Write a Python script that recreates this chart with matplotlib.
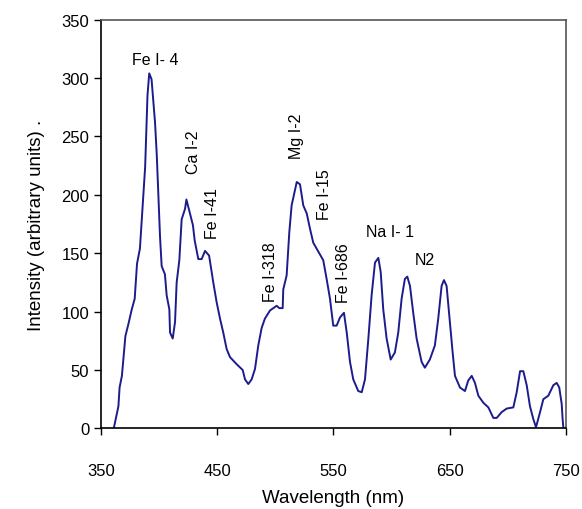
import matplotlib.pyplot as plt
plt.switch_backend('agg')

plt.rcParams['font.family'] = ['Liberation Sans', 'DejaVu Sans']

# spectrum
wavelength = [361, 365, 366, 368, 371, 373.5, 376.5, 379, 381, 383.5, 385, 386.5, 388, 390,
              391.5, 393.5, 396.5, 398, 400.8, 402.2, 405, 406.5, 408.8, 409.4, 411.7, 413.7,
              415.1, 417.4, 419.4, 422.3, 423.5, 426.3, 429.1, 430.6, 433.7, 436.6, 439.5, 443,
              446.6, 449.5, 452.4, 455.2, 458.1, 461, 466.7, 471.9, 473.9, 476.7, 479.6, 482.5,
              485.3, 488.2, 491, 495.4, 501.1, 503.4, 506.3, 506.8, 509.7, 512, 514, 518.4,
              521.2, 524, 527, 529.8, 532.6, 535.5, 538.4, 541.2, 544.1, 547, 549.8, 552.7,
              555.6, 559, 561.4, 564.2, 567, 571.3, 574.3, 577.1, 580, 582.8, 585.7, 588.6,
              590.6, 592.8, 595.7, 599.2, 602.8, 605.7, 608.6, 611.4, 613.5, 615.8, 618.6,
              621.5, 625.8, 628.6, 632.9, 637.2, 640.1, 643, 645, 647.3, 650.1, 652.5, 654.5,
              658.8, 663.1, 665.9, 668.9, 671.7, 674.6, 678.9, 683.2, 687.5, 690.4, 694.7, 699,
              704.7, 707.6, 710.5, 713.3, 716.2, 719, 721.9, 724.2, 727.7, 730.5, 734.8, 739.1,
              742, 744.2, 746.3, 747.1, 747.7]
intensity = [0, 19, 35, 45, 79, 89, 102, 111, 141, 154, 177, 200, 224, 285,
             304, 299, 262, 234, 164, 139, 132, 114, 102, 82, 77, 91,
             125, 144, 179, 188, 196, 185, 174, 161, 145, 145, 152, 148,
             125, 108, 94, 82, 68, 61, 55, 50, 42, 38, 42, 51,
             71, 86, 94, 101, 105, 103, 103, 119, 131, 168, 191, 211,
             209, 191, 184, 171, 159, 154, 149, 144, 128, 111, 88, 88,
             95, 99, 82, 57, 42, 32, 31, 42, 77, 114, 142, 146,
             134, 102, 77, 59, 65, 82, 111, 128, 130, 122, 99,
             77, 57, 52, 59, 71, 94, 122, 127, 122, 91, 65, 45,
             35, 32, 41, 45, 39, 28, 22, 18, 9, 9, 14, 17,
             18, 31, 49, 49, 37, 19, 8, 1, 14, 25, 28, 37,
             39, 35, 21, 8, 1]

# peak labels: text, x, y, rotation
peak_names = ['Fe I- 4', 'Ca I-2', 'Fe I-41', 'Fe I-318', 'Mg I-2', 'Fe I-15', 'Fe I-686', 'Na I- 1', 'N2']
peak_x = [396.5, 429.5, 446, 496, 518.5, 542.5, 558.5, 598.5, 628.5]
peak_y = [316, 237, 185, 135, 251, 201, 134, 169, 145]
peak_rot = [0, 90, 90, 90, 90, 90, 90, 0, 0]

fig = plt.figure(figsize=(5.82, 5.10), dpi=100)
ax = fig.add_axes([0.1735, 0.158, 0.799, 0.8015])

ax.plot(wavelength, intensity, color='#1c1c8c', lw=1.4)

for name, x, y, r in zip(peak_names, peak_x, peak_y, peak_rot):
    ax.text(x, y, name, rotation=r, ha='center', va='center', fontsize=11.5)

ax.set_xlim(350, 750)
ax.set_ylim(0, 350)
ax.set_xticks([350, 450, 550, 650, 750])
ax.set_yticks(range(0, 351, 50))
ax.tick_params(labelsize=12, direction='out', length=5, width=1)
ax.tick_params(axis='x', pad=20)
ax.set_xlabel('Wavelength (nm)', fontsize=13.5, labelpad=8)
ax.set_ylabel('Intensity (arbitrary units) .', fontsize=13.5, labelpad=12)

for side in ['left', 'bottom']:
    ax.spines[side].set_color('black')
    ax.spines[side].set_linewidth(1.2)
for side in ['top', 'right']:
    ax.spines[side].set_color('#555555')
    ax.spines[side].set_linewidth(1.2)

fig.savefig('out.png', dpi=100)
